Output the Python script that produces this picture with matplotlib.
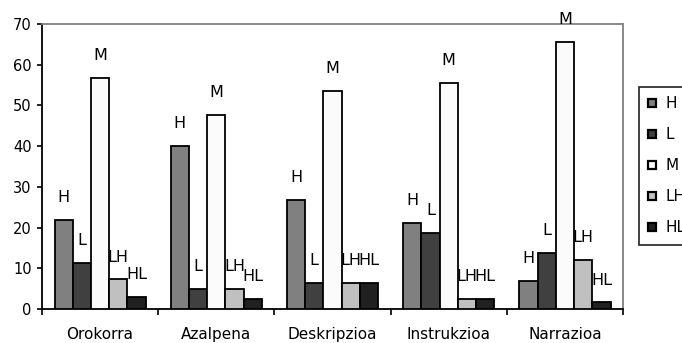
import matplotlib.pyplot as plt
import numpy as np

plt.rcParams['font.family'] = ['DejaVu Sans']

categories = ["Orokorra", "Azalpena", "Deskripzioa", "Instrukzioa", "Narrazioa"]
series_names = ["H", "L", "M", "LH", "HL"]
H = [21.9, 40.1, 26.8, 21.1, 7.0]
L = [11.4, 4.9, 6.5, 18.7, 13.8]
M = [56.7, 47.6, 53.5, 55.5, 65.7]
LH = [7.3, 4.9, 6.5, 2.5, 12.0]
HL = [3.0, 2.5, 6.5, 2.5, 1.6]
colors = ["#808080", "#404040", "#fbfbfb", "#c0c0c0", "#202020"]

fig = plt.figure(figsize=(6.82, 3.43), dpi=100)
ax = fig.add_axes([0.0616, 0.0991, 0.8519, 0.8309])

x = np.arange(len(categories))
w = 0.157
handles = []
for i, (name, vals) in enumerate(zip(series_names, [H, L, M, LH, HL])):
    pos = x + (i - 2) * w
    b = ax.bar(pos, vals, w, color=colors[i], edgecolor="black", linewidth=1.3, label=name, zorder=3)
    handles.append(b)
    # series name above every bar, like the excel data labels
    for px, v in zip(pos, vals):
        ax.annotate(name, (px, v), xytext=(0, 16), textcoords="offset points",
                    ha="center", va="center", fontsize=11.5, annotation_clip=False, zorder=4)

ax.set_xlim(-0.5, 4.5)
ax.set_ylim(0, 70)
ax.set_yticks(range(0, 71, 10))
ax.set_xticks(np.arange(-0.5, 5, 1))
ax.set_xticklabels([])
ax.set_xticks(x, minor=True)
ax.set_xticklabels(categories, minor=True, fontsize=11)
ax.tick_params(axis="x", which="major", direction="out", length=4, width=1.2)
ax.tick_params(axis="x", which="minor", length=0, pad=13)
ax.tick_params(axis="y", direction="out", length=3.5, width=1.2, labelsize=10.5, pad=4)

for s in ["left", "bottom"]:
    ax.spines[s].set_color("black")
    ax.spines[s].set_linewidth(1.3)
for s in ["top", "right"]:
    ax.spines[s].set_color("#808080")
    ax.spines[s].set_linewidth(1.3)

# legend sticks out past the right edge, as in the original
leg = fig.legend(handles=handles, labels=series_names, loc="upper left",
                 bbox_to_anchor=(0.937, 0.746), frameon=True, fancybox=False,
                 edgecolor="black", fontsize=11, handlelength=0.5, handleheight=0.5,
                 handletextpad=0.6, labelspacing=1.05, borderpad=0.6, borderaxespad=0)
leg.get_frame().set_linewidth(1.3)
for p in leg.get_patches():
    p.set_linewidth(1.6)

fig.savefig("out.png", dpi=100)
